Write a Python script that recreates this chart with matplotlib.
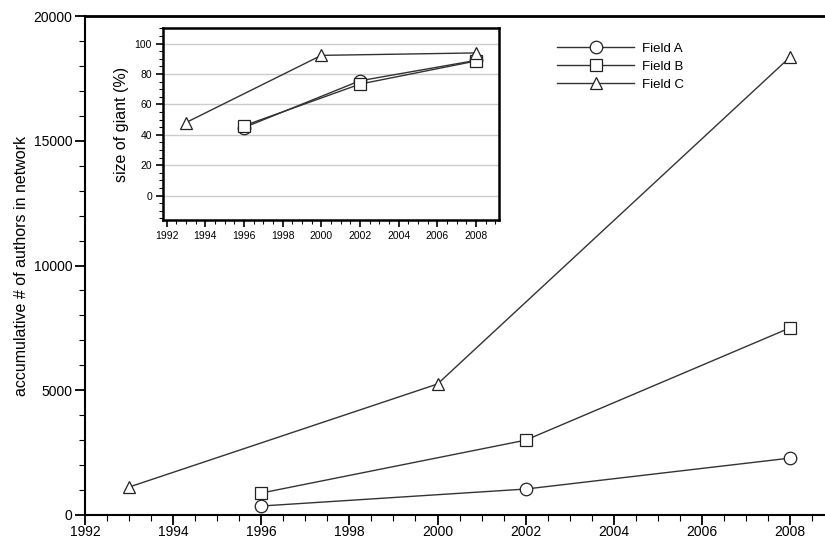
import matplotlib
matplotlib.use("Agg")
import matplotlib.pyplot as plt
from matplotlib.ticker import MultipleLocator

plt.rcParams['font.family'] = ['Liberation Sans', 'DejaVu Sans']

years_A = [1996, 2002, 2008]
years_B = [1996, 2002, 2008]
years_C = [1993, 2000, 2008]
authors_A = [360, 1040, 2280]
authors_B = [880, 3000, 7500]
authors_C = [1120, 5250, 18350]
giant_A = [44.8, 75.6, 89.0]
giant_B = [46.0, 73.4, 88.6]
giant_C = [48.1, 92.3, 93.9]
labels = ["Field A", "Field B", "Field C"]
markers = ["o", "s", "^"]

W, H = 825, 539
fig = plt.figure(figsize=(W/100, H/100), dpi=100)

def px(l, t, r, b):
    return [l/W, 1-b/H, (r-l)/W, (b-t)/H]

line_col = "#333333"
ax = fig.add_axes(px(85, 16, 825, 515))
series = [(years_A, authors_A), (years_B, authors_B), (years_C, authors_C)]
handles = []
for (x, y), m, lab in zip(series, markers, labels):
    ms = 9 if m != "s" else 8
    h, = ax.plot(x, y, color=line_col, lw=1.0, marker=m, ms=ms, mfc="white",
                 mec="#222222", mew=0.9, label=lab)
    handles.append(h)
ax.set_xlim(1992, 1992 + 740/((790-85)/16))
ax.set_ylim(0, 20000)
ax.spines['right'].set_visible(False)
for s in ['left', 'bottom']:
    ax.spines[s].set_linewidth(1.5)
ax.spines['top'].set_linewidth(2.0)
ax.xaxis.set_major_locator(MultipleLocator(2))
ax.xaxis.set_minor_locator(MultipleLocator(0.5))
ax.yaxis.set_major_locator(MultipleLocator(5000))
ax.yaxis.set_minor_locator(MultipleLocator(1000))
ax.tick_params(which='major', direction='out', length=7, width=1.3, labelsize=10, pad=2)
ax.tick_params(axis='x', which='major', pad=0.5)
ax.tick_params(which='minor', direction='out', length=4, width=0.8)
ax.tick_params(top=False, right=False, which='both')
ax.set_ylabel("accumulative # of authors in network", fontsize=11.5, labelpad=3)

leg = ax.legend(handles=handles, loc='upper left', bbox_to_anchor=(552/W, 1-37/H),
                bbox_transform=fig.transFigure, frameon=False, fontsize=9.5,
                handlelength=5.8, handletextpad=0.6, labelspacing=0.45, borderaxespad=0)

# inset
ia = fig.add_axes(px(163, 28, 499, 220))
ins = [(years_A, giant_A), (years_B, giant_B), (years_C, giant_C)]
for (x, y), m in zip(ins, markers):
    ms = 9 if m != "s" else 8
    ia.plot(x, y, color=line_col, lw=1.0, marker=m, ms=ms, mfc="white",
            mec="#222222", mew=0.9, zorder=3)
ia.set_xlim(1991.81, 2009.19)
ia.set_ylim(-16, 110.3)
for s in ia.spines.values():
    s.set_linewidth(1.8)
ia.xaxis.set_major_locator(MultipleLocator(2))
ia.xaxis.set_minor_locator(MultipleLocator(0.5))
ia.yaxis.set_major_locator(MultipleLocator(20))
ia.yaxis.set_minor_locator(MultipleLocator(5))
ia.yaxis.grid(True, which='major', color="#cccccc", lw=1.0, zorder=0)
ia.set_axisbelow(True)
ia.tick_params(which='major', direction='out', length=5, width=1.2, labelsize=7.5, pad=3)
ia.tick_params(which='minor', direction='out', length=3, width=0.8)
ia.set_ylabel("size of giant (%)", fontsize=11.5, labelpad=4)

fig.savefig("out.png", dpi=100)
